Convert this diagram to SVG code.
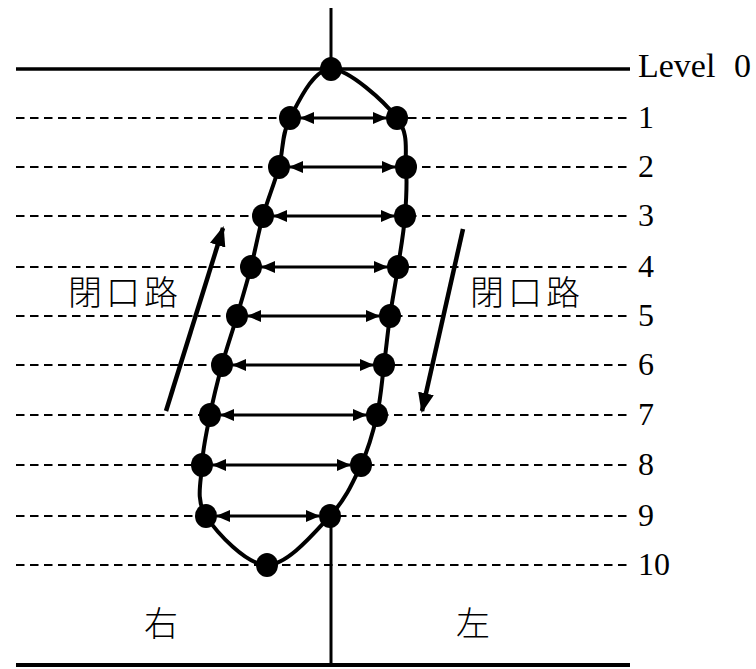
<svg xmlns="http://www.w3.org/2000/svg" width="756" height="669" viewBox="0 0 756 669">
<defs>
<style>
.dash{stroke:#000;stroke-width:1.8;stroke-dasharray:8.5 5.5;fill:none}
.solid{stroke:#000;stroke-width:3.5;fill:none}
.dot{fill:#000}
.dbl{stroke:#000;stroke-width:3;fill:none;marker-start:url(#ah);marker-end:url(#ah)}
.big{stroke:#000;stroke-width:4.5;fill:none;marker-end:url(#bh)}
.num{font-family:"Liberation Serif",serif;font-size:32px;fill:#000}
.cjk{font-family:"Noto Sans CJK JP","Noto Sans CJK SC",sans-serif;font-size:34px;font-weight:300;fill:#000}
</style>
<marker id="ah" viewBox="0 0 14 12" refX="13" refY="6" markerWidth="14" markerHeight="12" markerUnits="userSpaceOnUse" orient="auto-start-reverse">
<path d="M0,0 L14,6 L0,12 Z" fill="#000"/>
</marker>
<marker id="bh" viewBox="0 0 20 16" refX="18" refY="8" markerWidth="20" markerHeight="16" markerUnits="userSpaceOnUse" orient="auto">
<path d="M0,0 L20,8 L0,16 Z" fill="#000"/>
</marker>
</defs>
<g id="levels">
<line class="solid" x1="16" y1="69" x2="630" y2="69"/>
<line class="dash" x1="16" y1="118" x2="630" y2="118"/>
<line class="dash" x1="16" y1="167" x2="630" y2="167"/>
<line class="dash" x1="16" y1="216" x2="630" y2="216"/>
<line class="dash" x1="16" y1="267" x2="630" y2="267"/>
<line class="dash" x1="16" y1="316" x2="630" y2="316"/>
<line class="dash" x1="16" y1="365" x2="630" y2="365"/>
<line class="dash" x1="16" y1="415" x2="630" y2="415"/>
<line class="dash" x1="16" y1="465" x2="630" y2="465"/>
<line class="dash" x1="16" y1="516" x2="630" y2="516"/>
<line class="dash" x1="16" y1="565" x2="630" y2="565"/>
<line class="solid" x1="16" y1="665" x2="630" y2="665" style="stroke-width:4"/>
<line class="solid" x1="331" y1="8" x2="331" y2="69" style="stroke-width:3"/>
<line class="solid" x1="331" y1="516" x2="331" y2="665" style="stroke-width:3"/>
</g>
<g id="level-labels">
<text class="num" x="638" y="77" style="font-size:34px">Level<tspan x="734">0</tspan></text>
<text class="num" x="638" y="128">1</text>
<text class="num" x="638" y="177">2</text>
<text class="num" x="638" y="226">3</text>
<text class="num" x="638" y="277">4</text>
<text class="num" x="638" y="326">5</text>
<text class="num" x="638" y="375">6</text>
<text class="num" x="638" y="425">7</text>
<text class="num" x="638" y="475">8</text>
<text class="num" x="638" y="526">9</text>
<text class="num" x="638" y="575">10</text>
</g>
<g id="loop">
<path d="M331,69 C348.8,69 384.5,101.7 397,118 C409.5,134.3 404.7,150.7 406,167 C407.3,183.3 406.3,199.3 405,216 C403.7,232.7 400.5,250.3 398,267 C395.5,283.7 392.3,299.7 390,316 C387.7,332.3 386.2,348.5 384,365 C381.8,381.5 380.8,398.3 377,415 C373.2,431.7 368.8,448.2 361,465 C353.2,481.8 345.7,499.3 330,516 C314.3,532.7 287.7,565 267,565 C246.3,565 216.8,532.7 206,516 C195.2,499.3 201.3,481.8 202,465 C202.7,448.2 206.7,431.7 210,415 C213.3,398.3 217.5,381.5 222,365 C226.5,348.5 232.2,332.3 237,316 C241.8,299.7 246.7,283.7 251,267 C255.3,250.3 258.3,232.7 263,216 C267.7,199.3 274.5,183.3 279,167 C283.5,150.7 281.3,134.3 290,118 C298.7,101.7 313.2,69 331,69 Z" fill="none" stroke="#000" stroke-width="4"/>
</g>
<g id="connectors">
<line class="dbl" x1="301" y1="118" x2="386" y2="118"/>
<line class="dbl" x1="290" y1="167" x2="395" y2="167"/>
<line class="dbl" x1="274" y1="216" x2="394" y2="216"/>
<line class="dbl" x1="262" y1="267" x2="387" y2="267"/>
<line class="dbl" x1="248" y1="316" x2="379" y2="316"/>
<line class="dbl" x1="233" y1="365" x2="373" y2="365"/>
<line class="dbl" x1="221" y1="415" x2="366" y2="415"/>
<line class="dbl" x1="213" y1="465" x2="350" y2="465"/>
<line class="dbl" x1="217" y1="516" x2="319" y2="516"/>
<line class="big" x1="166" y1="411" x2="223" y2="228"/>
<line class="big" x1="463" y1="229" x2="422" y2="411"/>
</g>
<g id="nodes">
<ellipse id="n0" class="dot" cx="331" cy="69" rx="11" ry="12"/>
<ellipse id="n1l" class="dot" cx="290" cy="118" rx="11" ry="12"/>
<ellipse id="n1r" class="dot" cx="397" cy="118" rx="11" ry="12"/>
<ellipse id="n2l" class="dot" cx="279" cy="167" rx="11" ry="12"/>
<ellipse id="n2r" class="dot" cx="406" cy="167" rx="11" ry="12"/>
<ellipse id="n3l" class="dot" cx="263" cy="216" rx="11" ry="12"/>
<ellipse id="n3r" class="dot" cx="405" cy="216" rx="11" ry="12"/>
<ellipse id="n4l" class="dot" cx="251" cy="267" rx="11" ry="12"/>
<ellipse id="n4r" class="dot" cx="398" cy="267" rx="11" ry="12"/>
<ellipse id="n5l" class="dot" cx="237" cy="316" rx="11" ry="12"/>
<ellipse id="n5r" class="dot" cx="390" cy="316" rx="11" ry="12"/>
<ellipse id="n6l" class="dot" cx="222" cy="365" rx="11" ry="12"/>
<ellipse id="n6r" class="dot" cx="384" cy="365" rx="11" ry="12"/>
<ellipse id="n7l" class="dot" cx="210" cy="415" rx="11" ry="12"/>
<ellipse id="n7r" class="dot" cx="377" cy="415" rx="11" ry="12"/>
<ellipse id="n8l" class="dot" cx="202" cy="465" rx="11" ry="12"/>
<ellipse id="n8r" class="dot" cx="361" cy="465" rx="11" ry="12"/>
<ellipse id="n9l" class="dot" cx="206" cy="516" rx="11" ry="12"/>
<ellipse id="n9r" class="dot" cx="330" cy="516" rx="11" ry="12"/>
<ellipse id="n10" class="dot" cx="267" cy="565" rx="11" ry="12"/>
</g>
<g id="labels">
<text class="cjk" x="68" y="305" letter-spacing="4">閉口路</text>
<text class="cjk" x="470" y="305" letter-spacing="4">閉口路</text>
<text class="cjk" x="161" y="636" text-anchor="middle">右</text>
<text class="cjk" x="473" y="636" text-anchor="middle">左</text>
</g>
</svg>
